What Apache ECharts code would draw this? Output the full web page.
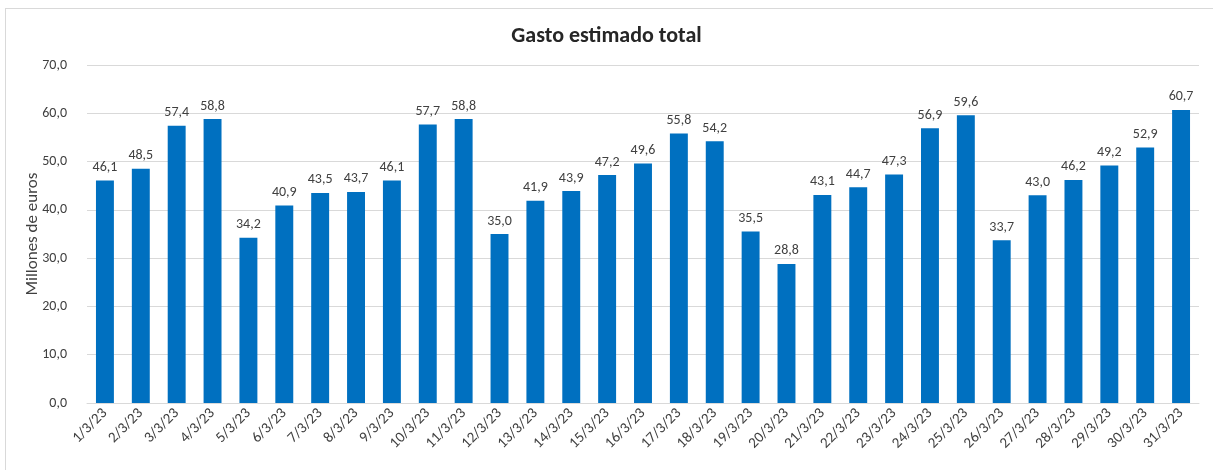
<!DOCTYPE html>
<html>
<head>
<meta charset="utf-8">
<script src="https://cdn.jsdelivr.net/npm/echarts@6/dist/echarts.min.js"></script>
<style>
    html, body { margin: 0; padding: 0; background: #fff; }
    #frame { position: absolute; left: 5px; top: 8px; width: 1220px; height: 480px; border: 1px solid #d9d9d9; }
    #chart { position: absolute; left: 0; top: 0; width: 1213px; height: 470px; }
</style>
</head>
<body>
<div id="frame"></div>
<div id="chart"></div>
<script>
// fechas de marzo 2023
const categories = ['1/3/23','2/3/23','3/3/23','4/3/23','5/3/23','6/3/23','7/3/23','8/3/23','9/3/23','10/3/23',
    '11/3/23','12/3/23','13/3/23','14/3/23','15/3/23','16/3/23','17/3/23','18/3/23','19/3/23','20/3/23',
    '21/3/23','22/3/23','23/3/23','24/3/23','25/3/23','26/3/23','27/3/23','28/3/23','29/3/23','30/3/23','31/3/23']
const gasto = [46.1, 48.5, 57.4, 58.8, 34.2, 40.9, 43.5, 43.7, 46.1, 57.7,
    58.8, 35.0, 41.9, 43.9, 47.2, 49.6, 55.8, 54.2, 35.5, 28.8,
    43.1, 44.7, 47.3, 56.9, 59.6, 33.7, 43.0, 46.2, 49.2, 52.9, 60.7]

const fmt = v => v.toFixed(1).replace('.', ',')
const font = 'Calibri, Carlito, Lato, sans-serif'

const chart = echarts.init(document.getElementById('chart'))
chart.setOption({
    animation: false,
    textStyle: { fontFamily: font },
    title: {
        text: 'Gasto estimado total',
        left: 'center',
        top: 20,
        textStyle: { fontSize: 22, fontWeight: 'bold', color: '#262626', fontFamily: font }
    },
    grid: { left: 87, right: 14, top: 65, bottom: 67 },
    xAxis: {
        type: 'category',
        data: categories,
        axisTick: { show: false },
        axisLine: { lineStyle: { color: '#d9d9d9' } },
        axisLabel: { rotate: 45, color: '#404040', fontSize: 15, margin: 8, interval: 0 }
    },
    yAxis: {
        type: 'value',
        min: 0,
        max: 70,
        interval: 10,
        name: 'Millones de euros',
        nameLocation: 'middle',
        nameGap: 46,
        nameMoveOverlap: false,
        nameTextStyle: { color: '#404040', fontSize: 17 },
        axisLine: { show: false },
        axisTick: { show: false },
        axisLabel: { color: '#404040', fontSize: 14, margin: 20, formatter: v => fmt(v) },
        splitLine: { lineStyle: { color: '#d9d9d9' } }
    },
    series: [{
        type: 'bar',
        data: gasto,
        barWidth: '50%',
        itemStyle: { color: '#0070C0' },
        label: {
            show: true,
            position: 'top',
            distance: 6,
            color: '#404040',
            fontSize: 14,
            formatter: p => fmt(p.value)
        }
    }]
})
</script>
</body>
</html>
